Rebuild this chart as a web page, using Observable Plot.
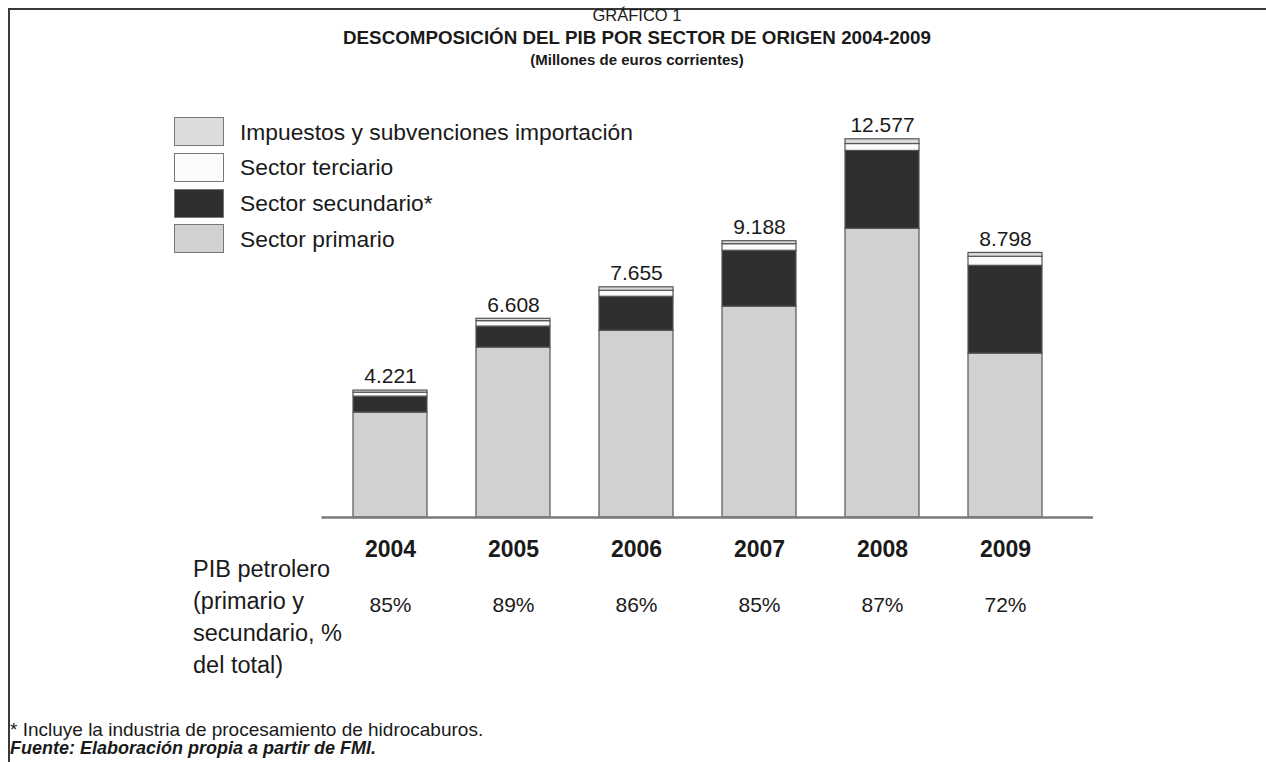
<!DOCTYPE html>
<html>
<head>
<meta charset="utf-8">
<script src="https://cdn.jsdelivr.net/npm/d3@7"></script>
<script src="https://cdn.jsdelivr.net/npm/@observablehq/plot@0.6"></script>
<style>
  html, body { margin: 0; padding: 0; background: #fff; }
  #wrap { position: relative; width: 1266px; height: 762px; overflow: hidden; font-family: "Liberation Sans", Arial, sans-serif; color: #1a1a1a; }
  #frame { position: absolute; left: 8px; top: 8px; width: 1300px; height: 800px; border-top: 2px solid #3a3a3a; border-left: 2px solid #3a3a3a; }
  .t { position: absolute; white-space: nowrap; }
  #chart { position: absolute; left: 0; top: 0; }
  .lg-box { position: absolute; width: 48px; height: 27px; border: 1.5px solid #777; }
  .lg-txt { position: absolute; font-size: 22.8px; line-height: 30px; white-space: nowrap; }
</style>
</head>
<body>
<div id="wrap">
  <div id="frame"></div>
  <div id="chart"></div>
  <div class="t" id="kicker" style="left:0;width:1274px;text-align:center;top:6px;font-size:16.5px;">GRÁFICO 1</div>
  <div class="t" id="title" style="left:0;width:1274px;text-align:center;top:27px;font-size:18.8px;font-weight:bold;">DESCOMPOSICIÓN DEL PIB POR SECTOR DE ORIGEN 2004-2009</div>
  <div class="t" id="subtitle" style="left:0;width:1274px;text-align:center;top:51px;font-size:15px;font-weight:bold;">(Millones de euros corrientes)</div>
  <div id="legend"></div>
  <div class="t" id="rowlabel" style="left:193px;top:553px;font-size:23.5px;line-height:32px;white-space:normal;width:170px;"></div>
  <div class="t" style="left:10px;top:719px;font-size:19px;">* Incluye la industria de procesamiento de hidrocaburos.</div>
  <div class="t" style="left:10px;top:738px;font-size:18px;font-weight:bold;font-style:italic;">Fuente: Elaboración propia a partir de FMI.</div>
</div>
<script>
// ---- data (millones de euros corrientes) ----
const years = ["2004", "2005", "2006", "2007", "2008", "2009"];
const primario   = [3490, 5650, 6210, 7010, 9600, 5450];
const secundario = [530, 700, 1130, 1860, 2590, 2920];
const terciario  = [130, 180, 200, 220, 230, 300];
const impuestos  = [71, 78, 115, 98, 157, 128];
const totals     = [4221, 6608, 7655, 9188, 12577, 8798];
const petrolero  = [85, 89, 86, 85, 87, 72];

const seriesNames = ["Sector primario", "Sector secundario*", "Sector terciario", "Impuestos y subvenciones importación"];
const seriesColors = ["#d1d1d1", "#2f2f2f", "#fbfbfb", "#dcdcdc"];
const legendOrder = ["Impuestos y subvenciones importación", "Sector terciario", "Sector secundario*", "Sector primario"];
const rowLabel = "PIB petrolero (primario y secundario, % del total)";

// ---- build tables ----
const seriesValues = [primario, secundario, terciario, impuestos];
const rows = [];
years.forEach((y, i) => {
  seriesNames.forEach((s, k) => rows.push({year: y, serie: s, value: seriesValues[k][i]}));
});
const totalRows = years.map((y, i) => ({year: y, total: totals[i], pct: petrolero[i]}));

const es = d3.formatLocale({decimal: ",", thousands: ".", grouping: [3], currency: ["", " €"]});
const fmt = es.format(",d");

const chart = Plot.plot({
  width: 1266,
  height: 700,
  marginLeft: 301.5,
  marginRight: 173,
  marginTop: 96,
  marginBottom: 183,
  style: {background: "transparent", fontFamily: "'Liberation Sans', Arial, sans-serif", color: "#1a1a1a", overflow: "visible"},
  x: {domain: years, padding: 0.4, axis: null},
  y: {domain: [0, 14000], axis: null},
  color: {domain: seriesNames, range: seriesColors},
  marks: [
    Plot.barY(rows, {x: "year", y: "value", fill: "serie", stroke: "#555", strokeWidth: 1.2, order: seriesNames}),
    Plot.ruleY([0], {stroke: "#7a7a7a", strokeWidth: 2.5, insetLeft: 20}),
    Plot.text(totalRows, {x: "year", y: "total", text: d => fmt(d.total), dy: -14, fontSize: 21, fill: "#1a1a1a"}),
    Plot.text(totalRows, {x: "year", y: 0, text: "year", dy: 32, fontSize: 23, fontWeight: "bold", fill: "#1a1a1a"}),
    Plot.text(totalRows, {x: "year", y: 0, text: d => d.pct + "%", dy: 88, fontSize: 21, fill: "#1a1a1a"})
  ]
});
document.getElementById("chart").appendChild(chart);

// ---- legend ----
const lg = document.getElementById("legend");
legendOrder.forEach((name, i) => {
  const top = 117 + i * 35.8;
  const box = document.createElement("div");
  box.className = "lg-box";
  box.style.left = "174px";
  box.style.top = top + "px";
  box.style.background = seriesColors[seriesNames.indexOf(name)];
  lg.appendChild(box);
  const txt = document.createElement("div");
  txt.className = "lg-txt";
  txt.style.left = "240px";
  txt.style.top = (top - 0.5) + "px";
  txt.textContent = name;
  lg.appendChild(txt);
});
document.getElementById("rowlabel").textContent = rowLabel;
</script>
</body>
</html>
